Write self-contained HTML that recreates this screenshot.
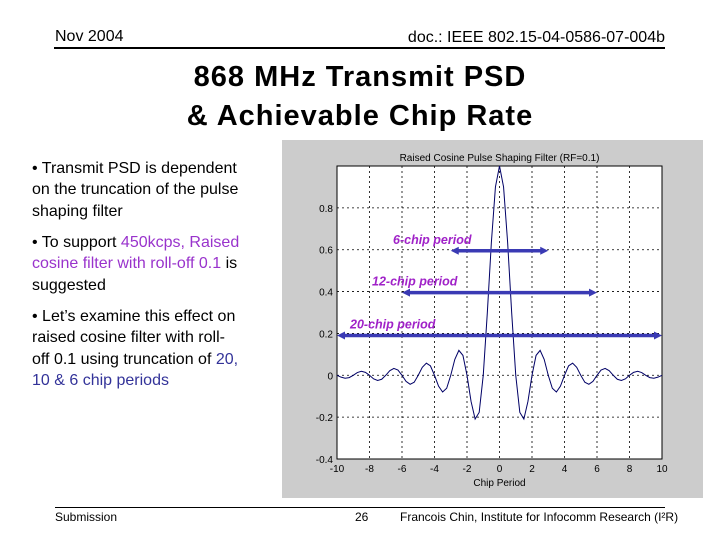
<!DOCTYPE html>
<html><head><meta charset="utf-8"><style>
body{margin:0;width:720px;height:540px;background:#fff;position:relative;overflow:hidden;font-family:"Liberation Sans",Arial,sans-serif}
.t{position:absolute;white-space:nowrap}
.b{font-size:16px;line-height:21.3px;color:#000;left:32px}
.p{color:#9933cc}.bl{color:#333399}
</style></head><body>
<div class="t" style="left:55px;top:28px;font-size:16px">Nov 2004</div>
<div class="t" style="right:55px;top:29px;font-size:16px">doc.: IEEE 802.15-04-0586-07-004b</div>
<div style="position:absolute;left:54px;top:47px;width:611px;height:2px;background:#000"></div>
<div class="t" style="left:0;width:720px;top:58px;font-size:29px;font-weight:bold;letter-spacing:1px;line-height:39px;text-align:center">868 MHz Transmit PSD<br>&amp; Achievable Chip Rate</div>
<div class="t b" style="top:158px">• Transmit PSD is dependent<br>on the truncation of the pulse<br>shaping filter</div>
<div class="t b" style="top:232px">• To support <span class="p">450kcps, Raised<br>cosine filter with roll-off 0.1</span> is<br>suggested</div>
<div class="t b" style="top:306px">• Let’s examine this effect on<br>raised cosine filter with roll-<br>off 0.1 using truncation of <span class="bl">20,<br>10 &amp; 6 chip periods</span></div>
<div style="position:absolute;left:55px;top:507px;width:610px;height:1px;background:#000"></div>
<div class="t" style="left:55px;top:510px;font-size:12px">Submission</div>
<div class="t" style="left:355px;top:510px;font-size:12px">26</div>
<div class="t" style="left:400px;top:510px;font-size:12px">Francois Chin, Institute for Infocomm Research (I²R)</div>
<svg id="chart" width="720" height="540" style="position:absolute;left:0;top:0" font-family="Liberation Sans, Arial, sans-serif"></svg>
<script>
const xTicks=[-10,-8,-6,-4,-2,0,2,4,6,8,10];
const yTicks=[-0.4,-0.2,0,0.2,0.4,0.6,0.8];
const yTickLabels=["-0.4","-0.2","0","0.2","0.4","0.6","0.8"];
const tValues=[-10,-9.75,-9.5,-9.25,-9,-8.75,-8.5,-8.25,-8,-7.75,-7.5,-7.25,-7,-6.75,-6.5,-6.25,-6,-5.75,-5.5,-5.25,-5,-4.75,-4.5,-4.25,-4,-3.75,-3.5,-3.25,-3,-2.75,-2.5,-2.25,-2,-1.75,-1.5,-1.25,-1,-0.75,-0.5,-0.25,0,0.25,0.5,0.75,1,1.25,1.5,1.75,2,2.25,2.5,2.75,3,3.25,3.5,3.75,4,4.25,4.5,4.75,5,5.25,5.5,5.75,6,6.25,6.5,6.75,7,7.25,7.5,7.75,8,8.25,8.5,8.75,9,9.25,9.5,9.75,10];
const pulseValues=[0,-0.009,-0.014,-0.011,0,0.013,0.019,0.014,0,-0.017,-0.025,-0.019,0,0.022,0.033,0.025,0,-0.029,-0.043,-0.033,0,0.038,0.058,0.045,0,-0.052,-0.080,-0.062,0,0.076,0.119,0.095,0,-0.125,-0.209,-0.177,0,0.298,0.635,0.90,1,0.90,0.635,0.298,0,-0.177,-0.209,-0.125,0,0.095,0.119,0.076,0,-0.062,-0.080,-0.052,0,0.045,0.058,0.038,0,-0.033,-0.043,-0.029,0,0.025,0.033,0.022,0,-0.019,-0.025,-0.017,0,0.014,0.019,0.013,0,-0.011,-0.014,-0.009,0];
const spanLabels=["6-chip period","12-chip period","20-chip period"];
const spanStart=[-3,-6,-10];
const spanEnd=[3,6,10];
const spanLevel=[0.595,0.395,0.19];

const L=337,R=662,T=166,B=459,xmin=-10,xmax=10,ymin=-0.4,ymax=1.0;
const X=v=>L+(v-xmin)/(xmax-xmin)*(R-L);
const Y=v=>B-(v-ymin)/(ymax-ymin)*(B-T);
const svg=document.getElementById('chart');
const NS='http://www.w3.org/2000/svg';
function mk(tag,attrs,parent){const e=document.createElementNS(NS,tag);for(const k in attrs)e.setAttribute(k,attrs[k]);(parent||svg).appendChild(e);return e;}
let e;
e=mk('rect',{x:282,y:140,width:421,height:358,fill:'#cccccc'});


e=mk('rect',{x:L,y:T,width:R-L,height:B-T,fill:'#fff',stroke:'#000','stroke-width':1});


xTicks.forEach((v,i)=>{
  if(i>0&&i<xTicks.length-1){e=mk('line',{x1:X(v),x2:X(v),y1:T,y2:B,stroke:'#000','stroke-dasharray':'2,3','stroke-width':0.8});
  
  }
  e=mk('text',{x:X(v),y:B+13,'font-size':10,'text-anchor':'middle',fill:'#000'});e.textContent=v;
  
  
});
yTicks.forEach((v,i)=>{
  if(i>0){e=mk('line',{x1:L,x2:R,y1:Y(v),y2:Y(v),stroke:'#000','stroke-dasharray':'2,3','stroke-width':0.8});
  
  }
  e=mk('text',{x:L-4,y:Y(v)+4,'font-size':10,'text-anchor':'end',fill:'#000'});e.textContent=yTickLabels[i];
  
  
});
e=mk('text',{x:(L+R)/2,y:161,'font-size':10,'text-anchor':'middle'});e.textContent='Raised Cosine Pulse Shaping Filter (RF=0.1)';


e=mk('text',{x:(L+R)/2,y:486,'font-size':10,'text-anchor':'middle'});e.textContent='Chip Period';


e=mk('polyline',{points:tValues.map((t,i)=>X(t)+','+Y(pulseValues[i])).join(' '),fill:'none',stroke:'#000066','stroke-width':1});


spanLabels.forEach((lab,i)=>{
  const y=Y(spanLevel[i]),x1=X(spanStart[i]),x2=X(spanEnd[i]);
  const g=mk('g',{});
  
  
  mk('line',{x1:x1+5,x2:x2-5,y1:y,y2:y,stroke:'#3a3ab4','stroke-width':3.5},g);
  mk('polygon',{points:`${x1},${y} ${x1+8},${y-4} ${x1+8},${y+4}`,fill:'#3a3ab4'},g);
  mk('polygon',{points:`${x2},${y} ${x2-8},${y-4} ${x2-8},${y+4}`,fill:'#3a3ab4'},g);
  const tx=mk('text',{x:[393,372,350][i],y:y-7,'font-size':12.5,'font-weight':'bold','font-style':'italic',fill:'#a022c8'});
  tx.textContent=lab;
  
  
});
</script>
</body></html>
